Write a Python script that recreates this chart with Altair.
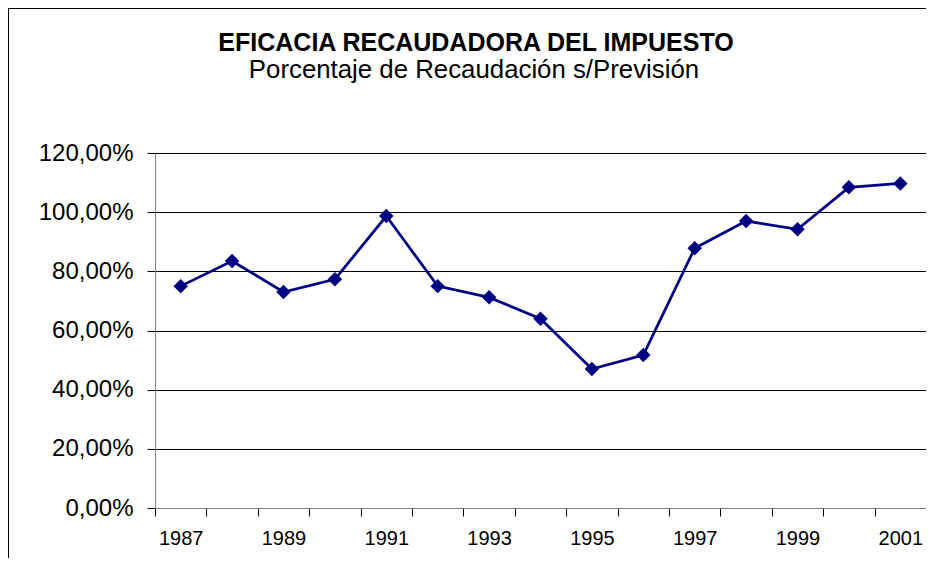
import altair as alt
import pandas as pd

years = list(range(1987, 2002))
values = [75.0, 83.5, 73.0, 77.3, 98.7, 75.0, 71.2, 64.0, 47.0, 51.7, 87.8, 97.0, 94.2, 108.4, 109.7]
title_text = "EFICACIA RECAUDADORA DEL IMPUESTO"
subtitle_text = "Porcentaje de Recaudación s/Previsión"
y_ticks = [0, 0.2, 0.4, 0.6, 0.8, 1.0, 1.2]

df = pd.DataFrame({"year": years, "value": [v / 100 for v in values]})

W, H = 771, 355
FONT = "Liberation Sans"
NAVY = "#000080"

x_enc = alt.X(
    "year:O",
    scale=alt.Scale(type="band", paddingInner=0, paddingOuter=0),
    bandPosition=0.5,
    axis=alt.Axis(
        title=None,
        tickBand="extent",
        labelExpr="datum.value % 2 == 1 ? datum.label : ''",
        labelOverlap=False,
        labelAngle=0,
        labelFont=FONT,
        labelFontSize=20,
        labelColor="#000000",
        labelPadding=12,
        tickSize=8,
        tickColor="#000000",
        domainColor="#808080",
        grid=False,
    ),
)
y_enc = alt.Y(
    "value:Q",
    scale=alt.Scale(domain=[0, 1.2], nice=False, zero=True),
    axis=alt.Axis(
        title=None,
        values=y_ticks,
        labelExpr="replace(format(datum.value, '.2%'), '.', ',')",
        labelFont=FONT,
        labelFontSize=24,
        labelColor="#000000",
        labelPadding=14,
        tickSize=8,
        tickColor="#000000",
        domainColor="#808080",
        grid=True,
        gridColor="#000000",
        gridWidth=1,
    ),
)

base = alt.Chart(df)
line = base.mark_line(color=NAVY, strokeWidth=2.75).encode(x=x_enc, y=y_enc)
pts = base.mark_point(shape="diamond", filled=True, size=210, color=NAVY, opacity=1).encode(
    x=x_enc, y=y_enc
)

frame_df = pd.DataFrame({"a": [0]})
left_border = alt.Chart(frame_df).mark_rule(color="#000000", strokeWidth=1).encode(
    x=alt.value(-146.5), y=alt.value(-145), y2=alt.value(405)
)
top_border = alt.Chart(frame_df).mark_rule(color="#000000", strokeWidth=1).encode(
    x=alt.value(-147), x2=alt.value(771), y=alt.value(-144.5)
)
title_mark = alt.Chart(frame_df).mark_text(
    text=title_text, font=FONT, fontSize=25, fontWeight="bold", color="#000000",
    align="center", baseline="alphabetic",
).encode(x=alt.value(321), y=alt.value(-102))
subtitle_mark = alt.Chart(frame_df).mark_text(
    text=subtitle_text, font=FONT, fontSize=25.8, color="#000000",
    align="center", baseline="alphabetic",
).encode(x=alt.value(319), y=alt.value(-75))

chart = (
    alt.layer(left_border, top_border, title_mark, subtitle_mark, line, pts)
    .properties(
        width=W,
        height=H,
        autosize=alt.AutoSizeParams(type="none"),
        padding={"left": 147, "top": 145, "right": 0, "bottom": 50},
    )
    .configure_view(stroke=None)
    .configure(background="white")
)

chart.save("out.html", embed_options={"renderer": "svg", "actions": False})
